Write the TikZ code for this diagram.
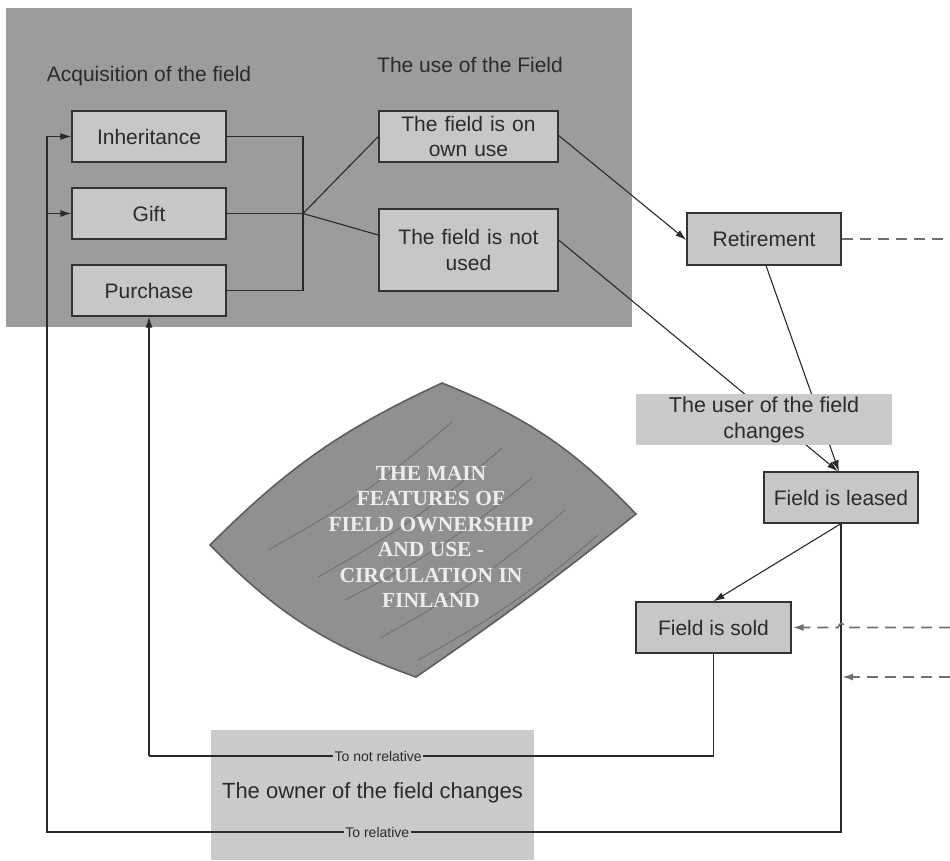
\documentclass[tikz,border=0pt]{standalone}
\usepackage{fontspec}
\setmainfont{Liberation Sans}
\newfontfamily\lensfont{Liberation Serif}
\usetikzlibrary{arrows.meta}
\definecolor{panelclr}{HTML}{9B9C9E}
\definecolor{boxfill}{HTML}{C6C7C9}
\definecolor{boxline}{HTML}{333333}
\definecolor{lblfill}{HTML}{C9CACC}
\definecolor{txtclr}{HTML}{2B2B2B}
\definecolor{lineclr}{HTML}{2A2A2A}
\definecolor{dashclr}{HTML}{707070}
\definecolor{lensfill}{HTML}{8F9092}
\definecolor{lensline}{HTML}{5E5E5E}
\definecolor{hatchclr}{HTML}{6A6A6C}
\tikzset{
  every node/.style={text=txtclr, font=\fontsize{21}{26}\selectfont},
  box/.style={draw=boxline, fill=boxfill, line width=1.3pt, minimum width=154pt,
    minimum height=51pt, inner sep=0pt, align=center},
  title/.style={inner sep=0pt},
  conn/.style={draw=lineclr, line width=1.1pt},
  arr/.style={conn, -{Latex[length=11pt,width=7pt]}},
  dashline/.style={draw=dashclr, line width=1.6pt, dash pattern=on 11pt off 7pt},
  dasharr/.style={dashline, -{Latex[length=11pt,width=7pt]}, shorten >=1pt},
  lbl/.style={fill=lblfill, inner sep=1.5pt, text=txtclr, font=\fontsize{14}{16}\selectfont},
  hatch/.style={draw=hatchclr, line width=0.7pt}
}
\begin{document}
\begin{tikzpicture}[x=1pt,y=-1pt]
\useasboundingbox (0,0) rectangle (950,860);
% background panel
\fill[panelclr] (6,8) rectangle (632,327);
\node[title] (acqt) at (149,76) {Acquisition of the field};
\node[title] (uset) at (470,65) {The use of the Field};
% boxes
\node[box] (inh) at (149,136.5) {Inheritance};
\node[box] (gift) at (149,213.5) {Gift};
\node[box] (pur) at (149,290.5) {Purchase};
\node[box, minimum width=179pt, text width=175pt] (own) at (468.5,136.5) {The field is on\\[-1pt]own use};
\node[box, minimum width=179pt, minimum height=82pt, text width=175pt] (notused) at (468.5,250) {The field is not\\used};
\node[box, minimum height=52pt] (ret) at (764,239) {Retirement};
\node[box] (lease) at (841,497.5) {Field is leased};
\node[box, minimum width=155pt] (sold) at (713.5,627.5) {Field is sold};
% owner box
\node[fill=lblfill, minimum width=323pt, minimum height=130pt, inner sep=0pt] (owner) at (372.5,795) {};
\node[inner sep=0pt, font=\fontsize{22}{26}\selectfont] (ownertxt) at (372.5,793) {The owner of the field changes};
% lens
\filldraw[fill=lensfill, draw=lensline, line width=1.6pt]
  (442,383) to[bend left=12] (636,514) to[bend left=2] (416,677)
  to[bend left=13] (210,545) to[bend left=10] cycle;
\draw[hatch] (268,550) to[bend right=6] (452,422);
\draw[hatch] (318,577) to[bend right=6] (502,448);
\draw[hatch] (345,600) to[bend right=6] (532,478);
\draw[hatch] (380,638) to[bend right=6] (565,510);
\draw[hatch] (418,660) to[bend right=6] (598,535);
\node[align=center, text=white!93!black, inner sep=0pt, font=\lensfont\bfseries\fontsize{21.5}{25.4}\selectfont] (lens) at (431,537)
  {THE MAIN\\FEATURES OF\\FIELD OWNERSHIP\\AND USE -\\CIRCULATION IN\\FINLAND};
% junction
\coordinate (J) at (303,213.5);
\draw[conn] (inh.east) -- (inh.east -| J) -- (pur.east -| J) -- (pur.east);
\draw[conn] (gift.east) -- (J);
\draw[conn] (J) -- (own.west);
\draw[conn] ([yshift=15pt]notused.west) -- (J);
% use to retirement / lease
\draw[arr] ([yshift=1pt]own.east) -- ([yshift=-1pt]ret.west);
\draw[arr] ([yshift=10pt]notused.east) -- ([xshift=-3pt]lease.north);
\draw[arr] ([xshift=2pt]ret.south) -- ([xshift=-2pt]lease.north);
\draw[arr] (lease.south) -- (sold.north);
% owner change loops
\coordinate (rb) at (841,832);
\coordinate (lb) at (47,832);
\draw[arr] (lease.south) -- (rb) -- node[lbl, pos=0.584] (tr) {To relative} (lb) -- (lb |- inh.west) -- (inh.west);
\draw[arr] (lb |- gift.west) -- (gift.west);
\coordinate (sb) at (713.5,756);
\coordinate (pb) at (149,756);
\draw[conn] (sold.south) -- (sb) -- node[lbl, pos=0.594] (tnr) {To not relative} (pb);
\draw[arr] (pb) -- (pur.south);
% user changes label (over the lines)
\node[fill=lblfill, minimum width=256pt, minimum height=51pt, inner sep=0pt, align=center, font=\fontsize{21.5}{26}\selectfont] (user) at (764,419.5) {The user of the field\\changes};
% dashed connectors from the right
\coordinate (d1) at (950,239);
\coordinate (d2) at (950,627.5);
\coordinate (d3) at (950,677);
\draw[dashline] (ret.east) -- (d1);
\draw[dasharr] (d2) -- (845,627.5) .. controls (843.5,622) and (839.5,622) .. (838,627.5) -- (sold.east);
\draw[dasharr] (d3) -- (841,677);
\end{tikzpicture}
\end{document}
